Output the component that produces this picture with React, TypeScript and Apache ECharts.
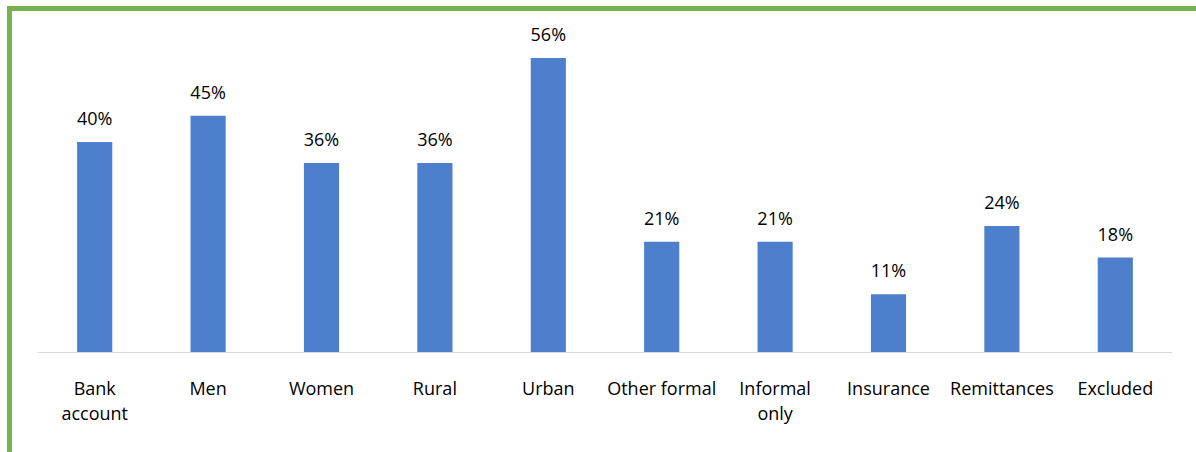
import React, { useEffect, useRef } from "react";
import * as echarts from "echarts";

const categories = [
  "Bank\naccount",
  "Men",
  "Women",
  "Rural",
  "Urban",
  "Other formal",
  "Informal\nonly",
  "Insurance",
  "Remittances",
  "Excluded",
];
const values = [40, 45, 36, 36, 56, 21, 21, 11, 24, 18];

const FONT = "'Open Sans', sans-serif";

export default function App() {
  const ref = useRef<HTMLDivElement>(null);
  useEffect(() => {
    if (!ref.current) return;
    const chart = echarts.init(ref.current, null, { renderer: "svg" });
    chart.setOption({
      animation: false,
      backgroundColor: "#ffffff",
      grid: { left: 38, right: 24, top: 37, bottom: 100, containLabel: false },
      xAxis: {
        type: "category",
        data: categories,
        axisLine: { show: true, lineStyle: { color: "#d9d9d9", width: 1 } },
        axisTick: { show: false },
        axisLabel: {
          interval: 0,
          margin: 23,
          color: "#000000",
          fontFamily: FONT,
          fontSize: 18,
          lineHeight: 25,
        },
      },
      yAxis: {
        type: "value",
        min: 0,
        max: 60,
        show: false,
        splitLine: { show: false },
      },
      series: [
        {
          type: "bar",
          data: values,
          barWidth: "31%",
          itemStyle: { color: "#4e7fcc" },
          label: {
            show: true,
            position: "top",
            distance: 15,
            formatter: "{c}%",
            color: "#000000",
            fontFamily: FONT,
            fontSize: 18,
          },
        },
      ],
      graphic: [
        {
          type: "rect",
          shape: { x: 7, y: 6, width: 1189, height: 5 },
          style: { fill: "#77b150" },
        },
        {
          type: "rect",
          shape: { x: 7, y: 6, width: 5, height: 446 },
          style: { fill: "#77b150" },
        },
      ],
    });
    return () => chart.dispose();
  }, []);
  return (
    <div
      ref={ref}
      style={{ position: "fixed", left: 0, top: 0, width: 1196, height: 452 }}
    />
  );
}
